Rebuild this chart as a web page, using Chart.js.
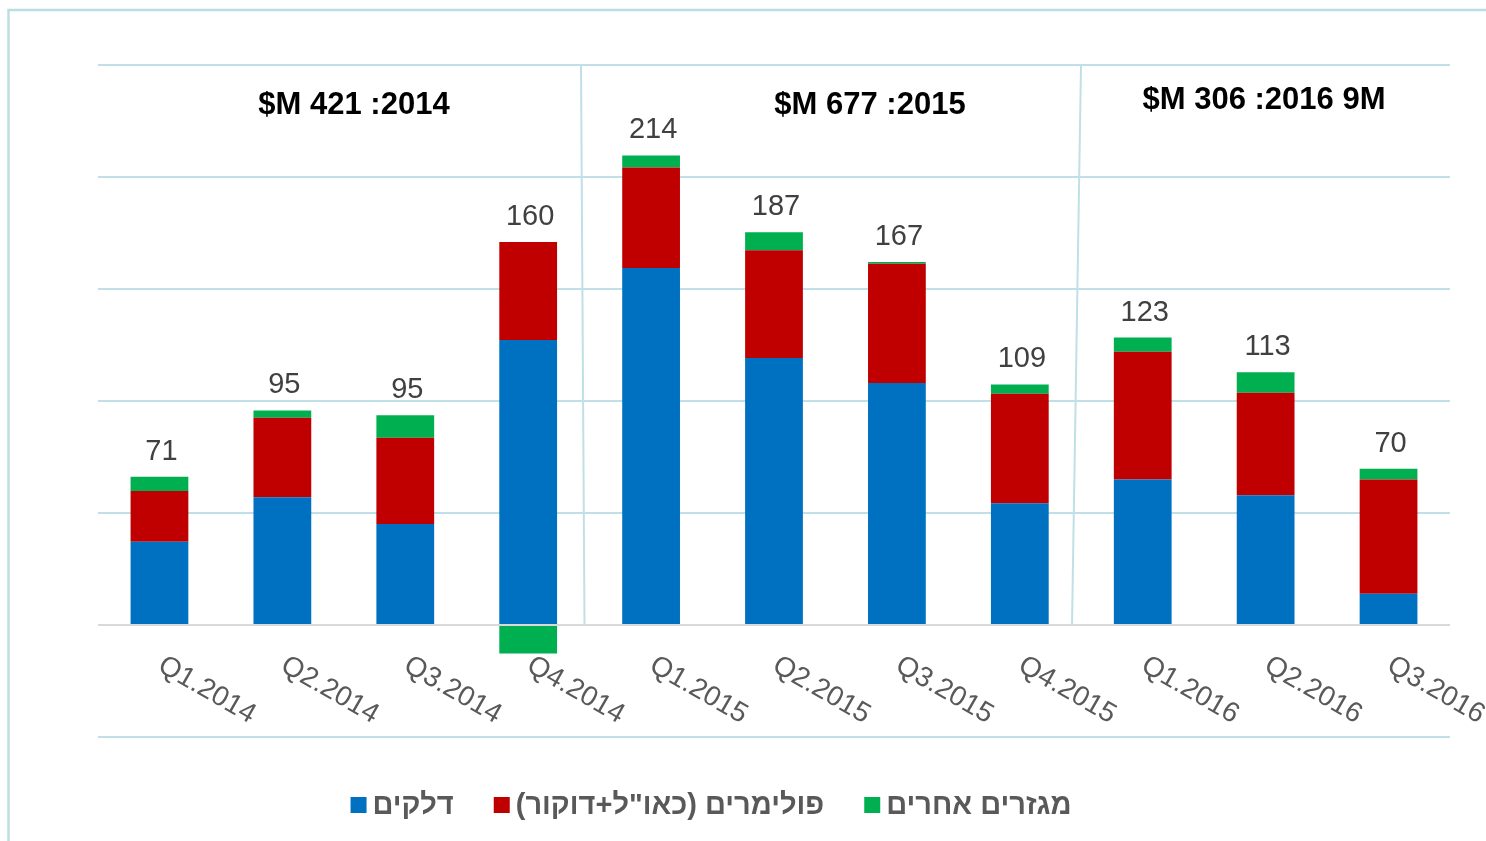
<!DOCTYPE html>
<html>
<head>
<meta charset="utf-8">
<script src="https://cdn.jsdelivr.net/npm/chart.js@4"></script>
<style>
  html, body { margin: 0; padding: 0; background: #fff; }
  canvas { display: block; }
</style>
</head>
<body>
<canvas id="salesChart" width="1486" height="841"></canvas>
<script>
const quarters = ['Q1.2014', 'Q2.2014', 'Q3.2014', 'Q4.2014', 'Q1.2015', 'Q2.2015',
  'Q3.2015', 'Q4.2015', 'Q1.2016', 'Q2.2016', 'Q3.2016'];

// דלקים
const fuels = [37.2, 57.0, 45.1, 127.2, 159.4, 119.2, 108.0, 54.3, 65.0, 57.9, 14.0];
// פולימרים
const polymers = [22.6, 35.5, 38.5, 43.8, 44.8, 48.1, 53.3, 48.9, 57.0, 45.8, 50.9];
// מגזרים אחרים
const others = [6.4, 3.3, 10.0, -12.7, 5.4, 8.0, 0.8, 4.2, 6.3, 9.1, 4.9];

// published totals shown above the bars
const totals = [71, 95, 95, 160, 214, 187, 167, 109, 123, 113, 70];

const seriesNames = ['דלקים', 'פולימרים (כאו"ל+דוקור)', 'מגזרים אחרים'];
const seriesColors = ['#0070c0', '#c00000', '#00b050'];

const periodTitles = ['$M 421 :2014', '$M 677 :2015', '$M 306 :2016 9M'];

const FONT = '"Liberation Sans", Arial, sans-serif';

/* ================= EXTRA DRAWING ================= */

const decorations = {
  id: 'decorations',

  beforeDraw(chart) {
    const ctx = chart.ctx;
    ctx.save();
    ctx.strokeStyle = '#b9dfe4';
    ctx.lineWidth = 2.5;
    ctx.strokeRect(8.5, 10, 3000, 3000);
    ctx.restore();
  },

  afterDatasetsDraw(chart) {
    const ctx = chart.ctx;
    const xs = chart.scales.x;
    const ys = chart.scales.y;
    const zeroY = ys.getPixelForValue(0);
    const area = chart.chartArea;

    ctx.save();

    // period separators (slightly slanted, like the original)
    ctx.strokeStyle = '#bfe0e6';
    ctx.lineWidth = 2;
    ctx.beginPath();
    ctx.moveTo(581, area.top);
    ctx.lineTo(584.5, zeroY);
    ctx.moveTo(1081, area.top);
    ctx.lineTo(1072, zeroY);
    ctx.stroke();

    // totals above the stacks
    ctx.fillStyle = '#404040';
    ctx.font = '29px ' + FONT;
    ctx.textAlign = 'center';
    ctx.textBaseline = 'alphabetic';
    totals.forEach((t, i) => {
      const top = chart.data.datasets.reduce((s, d) => s + Math.max(0, d.data[i]), 0);
      ctx.fillText(String(t), xs.getPixelForValue(i) + 2, ys.getPixelForValue(top) - 17);
    });

    // rotated quarter labels
    ctx.fillStyle = '#595959';
    ctx.font = '28px ' + FONT;
    ctx.textAlign = 'left';
    quarters.forEach((q, i) => {
      ctx.save();
      ctx.translate(xs.getPixelForValue(i) - 3, zeroY + 45);
      ctx.rotate(Math.PI / 6);
      ctx.fillText(q, 0, 0);
      ctx.restore();
    });

    // period headers
    ctx.fillStyle = '#000';
    ctx.font = 'bold 31px ' + FONT;
    ctx.textAlign = 'center';
    ctx.textBaseline = 'middle';
    const headerPos = [[354, 105], [870, 105], [1264, 100]];
    periodTitles.forEach((t, i) => {
      ctx.fillText(t, headerPos[i][0], headerPos[i][1]);
    });

    // legend
    ctx.font = 'bold 29px ' + FONT;
    ctx.textBaseline = 'middle';
    ctx.textAlign = 'left';
    ctx.direction = 'rtl';
    const box = 16, gap = 6, itemGap = 40;
    const widths = seriesNames.map(n => box + gap + ctx.measureText(n).width);
    const full = widths.reduce((a, b) => a + b, 0) + itemGap * (widths.length - 1);
    let lx = 711 - full / 2;
    const ly = 805;
    seriesNames.forEach((n, i) => {
      ctx.fillStyle = seriesColors[i];
      ctx.fillRect(lx, ly - box / 2, box, box);
      ctx.fillStyle = '#595959';
      ctx.fillText(n, lx + box + gap, ly + 1);
      lx += widths[i] + itemGap;
    });

    ctx.restore();
  }
};

/* ================= CHART ================= */

new Chart(document.getElementById('salesChart'), {
  type: 'bar',
  data: {
    labels: quarters,
    datasets: [fuels, polymers, others].map((vals, i) => ({
      label: seriesNames[i],
      data: vals,
      backgroundColor: seriesColors[i],
      borderWidth: 0,
      barPercentage: 0.47,
      categoryPercentage: 1
    }))
  },
  options: {
    responsive: false,
    animation: false,
    devicePixelRatio: 1,
    layout: {
      padding: { left: 98, right: 36, top: 65, bottom: 104 }
    },
    plugins: {
      legend: { display: false },
      tooltip: { enabled: false }
    },
    scales: {
      x: {
        stacked: true,
        display: false
      },
      y: {
        stacked: true,
        min: -50,
        max: 250,
        ticks: { display: false, stepSize: 50 },
        border: { display: false },
        grid: {
          drawTicks: false,
          lineWidth: 2,
          color: ctx => ctx.tick && ctx.tick.value === 0 ? '#d9d9d9' : '#bfe0e6'
        }
      }
    }
  },
  plugins: [decorations]
});
</script>
</body>
</html>
